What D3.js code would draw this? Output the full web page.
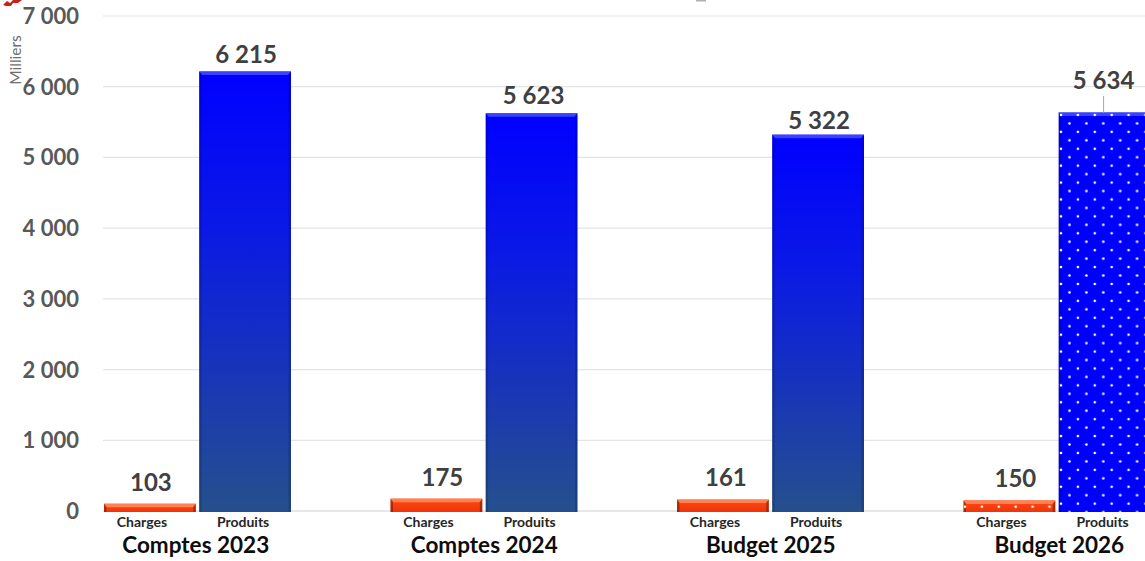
<!DOCTYPE html>
<head>
  <meta charset="utf-8">
  <script src="https://d3js.org/d3.v7.min.js"></script>
  <style>
    body { margin:0; background:#fff; overflow:hidden; }
    text { font-family: Lato, "Open Sans", sans-serif; }
  </style>
</head>

<body>
  <script>
    var periods = ["Comptes 2023", "Comptes 2024", "Budget 2025", "Budget 2026"];
    var kinds = ["Charges", "Produits"];
    var charges = [103, 175, 161, 150];
    var produits = [6215, 5623, 5322, 5634];
    var yTicks = [0, 1000, 2000, 3000, 4000, 5000, 6000, 7000];
    var dottedPeriod = "Budget 2026";

    var width = 1145, height = 561;
    var svg = d3.select("body").append("svg")
      .attr("width", width)
      .attr("height", height)
      .style("display", "block");

    var fmt = function(v) { return d3.format(",")(v).replace(",", " "); };

    var yScale = d3.scaleLinear().domain([0, 7000]).range([511, 16]);
    var xGroup = d3.scaleBand().domain(periods).range([54.5, 1200.5]);
    var xKind = d3.scaleBand().domain(kinds)
      .range([49.5, 236.5]).paddingInner(0.035);

    var rows = [];
    periods.forEach(function(p, i) {
      rows.push({ period: p, kind: "Charges", value: charges[i], idx: i });
      rows.push({ period: p, kind: "Produits", value: produits[i], idx: i });
    });

    // labels the original had dragged around by hand
    var chargeNudge = [[1, -4], [6, -4], [3, -5], [6, -4]];
    var produitNudge = [[1, 0], [2, 0], [1, 3], [-1, -15]];
    var kindLabelShift = { Charges: -8, Produits: -2 };
    var periodLabelShift = [-2, 0, 0, 2];

    function barX(d) { return xGroup(d.period) + xKind(d.kind); }
    function barMid(d) { return barX(d) + xKind.bandwidth() / 2; }
    function nudge(d) { return d.kind == "Charges" ? chargeNudge[d.idx] : produitNudge[d.idx]; }

    // gradients and dot patterns
    var defs = svg.append("defs");
    var blue = defs.append("linearGradient").attr("id", "blueGrad")
      .attr("x1", 0).attr("x2", 0).attr("y1", 0).attr("y2", 1);
    blue.append("stop").attr("offset", "0%").attr("stop-color", "#0000ff");
    blue.append("stop").attr("offset", "35%").attr("stop-color", "#0a19e6");
    blue.append("stop").attr("offset", "100%").attr("stop-color", "#25508c");

    var red = defs.append("linearGradient").attr("id", "redGrad")
      .attr("x1", 0).attr("x2", 0).attr("y1", 0).attr("y2", 1);
    red.append("stop").attr("offset", "0%").attr("stop-color", "#ff4a12");
    red.append("stop").attr("offset", "100%").attr("stop-color", "#ee340a");

    var dotsBlue = defs.append("pattern").attr("id", "dotsBlue")
      .attr("patternUnits", "userSpaceOnUse")
      .attr("width", 16.9).attr("height", 16.9)
      .attr("x", 1059).attr("y", 110);
    dotsBlue.append("circle").attr("cx", 2).attr("cy", 5).attr("r", 1.3).attr("fill", "#fff");
    dotsBlue.append("circle").attr("cx", 10.5).attr("cy", 13.4).attr("r", 1.3).attr("fill", "#fff");

    var dotsRed = defs.append("pattern").attr("id", "dotsRed")
      .attr("patternUnits", "userSpaceOnUse")
      .attr("width", 16.9).attr("height", 16.9)
      .attr("x", 963).attr("y", 501.7);
    dotsRed.append("circle").attr("cx", 2).attr("cy", 5).attr("r", 1.3).attr("fill", "#fff");

    // stray pieces cropped by the top edge of the original
    svg.append("path")
      .attr("d", "M3,5 L7,1 L10,3 L13,0 L22,0 L18,3 L13,3 L11,6 L6,6 Z")
      .attr("fill", "#c8201c");
    svg.append("rect")
      .attr("x", 696).attr("y", 0).attr("width", 10).attr("height", 1.5)
      .attr("fill", "#b0b0b0");

    // grid
    var plotLeft = 103;
    svg.append("g").selectAll("line")
      .data(yTicks.slice(1))
      .enter().append("line")
      .attr("x1", plotLeft).attr("x2", width)
      .attr("y1", function(d) { return yScale(d); })
      .attr("y2", function(d) { return yScale(d); })
      .attr("stroke", "#e4e4e4").attr("stroke-width", 1.2);
    svg.append("line")
      .attr("x1", plotLeft).attr("x2", width)
      .attr("y1", yScale(0)).attr("y2", yScale(0))
      .attr("stroke", "#d0d0d0").attr("stroke-width", 1.2);

    // y axis
    var yAxis = d3.axisLeft(yScale).tickValues(yTicks).tickFormat(fmt).tickSize(0).tickPadding(0);
    var yG = svg.append("g").attr("transform", "translate(79,0.5)").call(yAxis);
    yG.select(".domain").remove();
    yG.selectAll("text")
      .style("font-size", "22px").style("font-weight", 700).attr("fill", "#595959");

    svg.append("text")
      .attr("transform", "translate(21,60) rotate(-90)")
      .attr("text-anchor", "middle")
      .style("font-size", "15.5px").attr("fill", "#6e6e6e")
      .text("Milliers");

    // bars
    var bars = svg.append("g").selectAll("g")
      .data(rows)
      .enter().append("g")
      .attr("transform", function(d) { return "translate(" + barX(d) + "," + yScale(d.value) + ")"; });

    var bw = xKind.bandwidth();
    function barH(d) { return yScale(0) - yScale(d.value) + 1; }

    bars.append("rect")
      .attr("width", bw)
      .attr("height", barH)
      .attr("fill", function(d) {
        if (d.kind == "Charges") return "url(#redGrad)";
        return d.period == dottedPeriod ? "#0000ff" : "url(#blueGrad)";
      });

    // bevel: lit top edge and darker sides
    bars.append("path")
      .attr("d", "M0,0H" + bw + "L" + (bw - 3) + ",3.5H3Z")
      .attr("fill", function(d) { return d.kind == "Charges" ? "#ff8050" : "#3a42ff"; });
    bars.append("path")
      .attr("d", function(d) { return "M0,0L2.5,3.5V" + barH(d) + "H0Z"; })
      .attr("fill", "#000").attr("fill-opacity", function(d) { return d.kind == "Charges" ? 0.3 : 0.15; });
    bars.append("path")
      .attr("d", function(d) { return "M" + bw + ",0L" + (bw - 2.5) + ",3.5V" + barH(d) + "H" + bw + "Z"; })
      .attr("fill", "#000").attr("fill-opacity", function(d) { return d.kind == "Charges" ? 0.3 : 0.15; });

    // dots sit in page space so the pattern stays put
    svg.append("g").selectAll("rect")
      .data(rows.filter(function(d) { return d.period == dottedPeriod; }))
      .enter().append("rect")
      .attr("x", barX)
      .attr("y", function(d) { return yScale(d.value); })
      .attr("width", bw)
      .attr("height", barH)
      .attr("fill", function(d) { return d.kind == "Charges" ? "url(#dotsRed)" : "url(#dotsBlue)"; });

    // leader line of the moved 5 634 label
    svg.append("line")
      .attr("x1", barMid(rows[7]) - 1).attr("x2", barMid(rows[7]) - 1)
      .attr("y1", 96).attr("y2", yScale(produits[3]))
      .attr("stroke", "#a6a6a6").attr("stroke-width", 1);

    // value labels
    svg.append("g").selectAll("text")
      .data(rows)
      .enter().append("text")
      .attr("x", function(d) { return barMid(d) + nudge(d)[0]; })
      .attr("y", function(d) { return yScale(d.value) - 9 + nudge(d)[1]; })
      .attr("text-anchor", "middle")
      .style("font-size", "24px").style("font-weight", 700).attr("fill", "#404040")
      .text(function(d) { return fmt(d.value); });

    // category labels
    svg.append("g").selectAll("text")
      .data(rows)
      .enter().append("text")
      .attr("x", function(d) { return barMid(d) + kindLabelShift[d.kind]; })
      .attr("y", 527)
      .attr("text-anchor", "middle")
      .style("font-size", "14px").style("font-weight", 700).attr("fill", "#262626")
      .text(function(d) { return d.kind; });

    svg.append("g").selectAll("text")
      .data(periods)
      .enter().append("text")
      .attr("x", function(d, i) { return xGroup(d) + xGroup.bandwidth() / 2 + periodLabelShift[i]; })
      .attr("y", 553)
      .attr("text-anchor", "middle")
      .style("font-size", "22.5px").style("font-weight", 700).attr("fill", "#0d0d0d")
      .text(function(d) { return d; });
  </script>
</body>
